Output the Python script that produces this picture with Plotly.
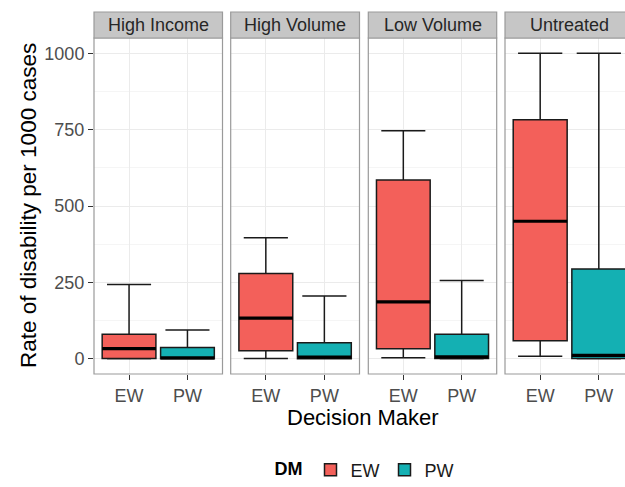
import plotly.graph_objects as go

panels = ["High Income", "High Volume", "Low Volume", "Untreated"]
makers = ["EW", "PW"]

ew_lower = [0, 1, 3, 8]
ew_q1 = [1, 26, 33, 59]
ew_median = [33, 133, 186, 450]
ew_q3 = [80, 279, 585, 782]
ew_upper = [243, 396, 746, 1000]

pw_lower = [0, 0, 0, 0]
pw_q1 = [0, 0, 1, 1]
pw_median = [3, 5, 6, 11]
pw_q3 = [37, 52, 80, 294]
pw_upper = [94, 205, 256, 1000]

y_ticks = [0, 250, 500, 750, 1000]

colors = {"EW": "#F3605A", "PW": "#14B0B3"}
stats = {
    "EW": (ew_lower, ew_q1, ew_median, ew_q3, ew_upper),
    "PW": (pw_lower, pw_q1, pw_median, pw_q3, pw_upper),
}

W, H = 625, 487
ml, mr, mt, mb = 94, 0, 12, 113
pw_px = W - ml - mr
ph_px = H - mt - mb
panel_px = [(94, 222.5), (230.7, 359.5), (368.3, 496.7), (505, 634)]
strip_px = 26
ydom_top = (ph_px - strip_px) / ph_px

box_w = 0.92
font = "Liberation Sans, Arial, sans-serif"

fig = go.Figure()
layout = {}
shapes = []
annotations = []

for i, name in enumerate(panels):
    k = "" if i == 0 else str(i + 1)
    xa, ya = "x" + k, "y" + k
    x0p, x1p = panel_px[i]
    d0 = (x0p - ml) / pw_px
    d1 = min((x1p - ml) / pw_px, 1.0)
    full_units = 2.2
    vis_units = full_units * ((min(x1p, W) - x0p) / (x1p - x0p))
    layout["xaxis" + k] = dict(
        domain=[d0, d1], anchor=ya, range=[-0.6, -0.6 + vis_units],
        tickvals=[0, 1], ticktext=makers, showgrid=True, gridcolor="#EBEBEB",
        gridwidth=1, zeroline=False, ticks="outside", ticklen=5, tickcolor="#333333",
        tickfont=dict(size=18, color="#4D4D4D", family=font), showline=False,
        fixedrange=True,
    )
    layout["yaxis" + k] = dict(
        domain=[0, ydom_top], anchor=xa, range=[-50, 1050], tickvals=y_ticks,
        showticklabels=(i == 0), ticks="outside" if i == 0 else "", ticklen=5,
        tickcolor="#333333", tickfont=dict(size=18, color="#4D4D4D", family=font),
        showgrid=True, gridcolor="#EBEBEB", zeroline=False, showline=False,
        minor=dict(tickvals=[125, 375, 625, 875], showgrid=True, gridcolor="#F5F5F5"),
        matches="y" if i > 0 else None, fixedrange=True,
    )
    frac_end = (x1p - x0p) / (min(x1p, W) - x0p)
    shapes.append(dict(type="rect", xref=xa + " domain", yref=ya + " domain",
                       x0=0, x1=frac_end, y0=0, y1=1,
                       line=dict(color="#9A9A9A", width=1.2), layer="above"))
    shapes.append(dict(type="rect", xref=xa + " domain", yref="paper",
                       x0=0, x1=frac_end, y0=ydom_top, y1=1,
                       fillcolor="#C6C6C6", line=dict(color="#9A9A9A", width=1.2)))
    annotations.append(dict(text=name, xref=xa + " domain", yref="paper",
                            x=frac_end / 2, y=(ydom_top + 1) / 2, showarrow=False,
                            xanchor="center", yanchor="middle",
                            font=dict(size=18, color="#262626", family=font)))

    med_x, med_y = [], []
    for j, m in enumerate(makers):
        lo, q1, md, q3, up = stats[m]
        fig.add_trace(go.Box(
            x=[j], q1=[q1[i]], median=[md[i]], q3=[q3[i]],
            lowerfence=[lo[i]], upperfence=[up[i]],
            width=box_w, whiskerwidth=0.82, fillcolor=colors[m],
            line=dict(color="#1A1A1A", width=1.5), name=m, legendgroup=m,
            showlegend=(i == 0), boxpoints=False, xaxis=xa, yaxis=ya,
            hoverinfo="skip",
        ))
        med_x += [j - box_w / 2, j + box_w / 2, None]
        med_y += [md[i], md[i], None]
    fig.add_trace(go.Scatter(x=med_x, y=med_y, mode="lines",
                             line=dict(color="#000000", width=3.2),
                             showlegend=False, hoverinfo="skip",
                             xaxis=xa, yaxis=ya))

annotations.append(dict(text="Decision Maker", xref="paper", yref="paper",
                        x=(363 - ml) / pw_px, y=(mt + ph_px - 418) / ph_px,
                        showarrow=False, xanchor="center", yanchor="middle",
                        font=dict(size=22, color="#000000", family=font)))
annotations.append(dict(text="Rate of disability per 1000 cases", xref="paper", yref="paper",
                        x=(28 - ml) / pw_px, y=(mt + ph_px - 206) / ph_px,
                        showarrow=False, xanchor="center", yanchor="middle", textangle=-90,
                        font=dict(size=22.5, color="#000000", family=font)))

fig.update_layout(
    width=W, height=H,
    margin=dict(l=ml, r=mr, t=mt, b=mb, pad=0),
    paper_bgcolor="white", plot_bgcolor="white",
    shapes=shapes, annotations=annotations,
    legend=dict(orientation="h", xref="container", yref="container",
                x=366 / W, y=1 - 470 / H, xanchor="center", yanchor="middle",
                title=dict(text="<b>DM</b>", font=dict(size=18, color="#000000", family=font)),
                font=dict(size=18, color="#1A1A1A", family=font)),
    font=dict(family=font),
    hovermode=False,
    **layout,
)

fig.write_html("out.html", config={"displayModeBar": False, "staticPlot": True},
               post_script="document.body.style.margin='0px';document.body.style.overflow='hidden';")
